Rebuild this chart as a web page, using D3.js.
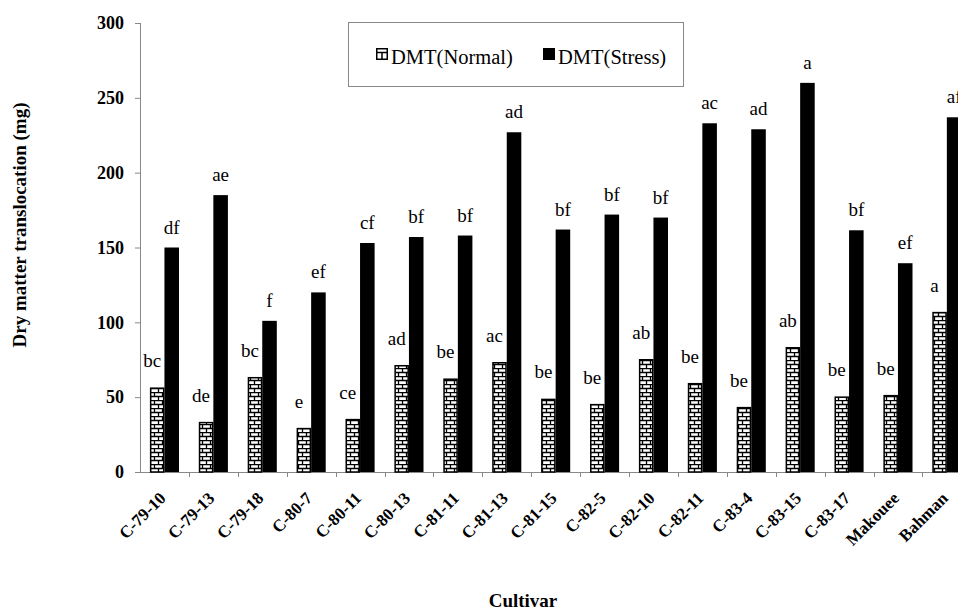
<!DOCTYPE html>
<html>
<head>
<meta charset="utf-8">
<script src="https://cdn.jsdelivr.net/npm/d3@7"></script>
<style>
    body { margin: 0; background: #fff; }
    svg { display: block; }
</style>
</head>
<body>
<svg id="chart"></svg>
<script>
const cultivars = ["C-79-10", "C-79-13", "C-79-18", "C-80-7", "C-80-11", "C-80-13", "C-81-11", "C-81-13", "C-81-15",
    "C-82-5", "C-82-10", "C-82-11", "C-83-4", "C-83-15", "C-83-17", "Makouee", "Bahman"];
const normal = [56, 33, 63, 29, 35, 71, 62, 73, 48.5, 45, 75, 59, 43, 83, 50, 51, 106.5];
const stress = [150, 185, 101, 120, 153, 157, 158, 227, 162, 172, 170, 233, 229, 260, 161.5, 139.5, 237];
const normalLetters = ["bc", "de", "bc", "e", "ce", "ad", "be", "ac", "be", "be", "ab", "be", "be", "ab", "be", "be", "a"];
const stressLetters = ["df", "ae", "f", "ef", "cf", "bf", "bf", "ad", "bf", "bf", "bf", "ac", "ad", "a", "bf", "ef", "af"];
const seriesNames = ["DMT(Normal)", "DMT(Stress)"];
const yTicks = [0, 50, 100, 150, 200, 250, 300];

const width = 958, height = 610;
const plotLeft = 140, plotTop = 23, plotBottom = 472;
const step = 48.9;
const serif = "Times New Roman, Liberation Serif, serif";

const svg = d3.select("#chart")
    .attr("width", width)
    .attr("height", height)
    .attr("font-family", serif);

// brick fill for the normal series
const defs = svg.append("defs");
const brick = defs.append("pattern")
    .attr("id", "brick")
    .attr("patternUnits", "userSpaceOnUse")
    .attr("width", 8)
    .attr("height", 8)
    .attr("y", plotBottom);
brick.append("rect").attr("width", 8).attr("height", 8).attr("fill", "#fff");
brick.append("path")
    .attr("d", "M0,0.5H8M0,4.5H8M2.5,0.5V4.5M6.5,4.5V8.5")
    .attr("stroke", "#000")
    .attr("stroke-width", 1.3)
    .attr("fill", "none");

const x = d3.scaleBand()
    .domain(cultivars)
    .range([plotLeft, plotLeft + step * cultivars.length]);

const xSub = d3.scaleBand()
    .domain(seriesNames)
    .range([0, x.bandwidth()])
    .paddingOuter(0.68);

const y = d3.scaleLinear()
    .domain([0, 300])
    .range([plotBottom, plotTop]);

const data = cultivars.map((c, i) => ({
    name: c, normal: normal[i], stress: stress[i],
    nl: normalLetters[i], sl: stressLetters[i]
}));

// axes
const yAxis = svg.append("g")
    .attr("transform", `translate(${plotLeft},0)`)
    .call(d3.axisLeft(y).tickValues(yTicks).tickSize(5).tickPadding(11).tickFormat(d3.format("d")));
yAxis.attr("font-family", serif).attr("font-size", 18).attr("font-weight", "bold");
yAxis.select(".domain").attr("stroke", "#888").attr("d", `M0.5,${y(300)}V${plotBottom + 0.5}`);
yAxis.selectAll(".tick line").attr("stroke", "#888");
yAxis.selectAll(".tick text").attr("fill", "#000");

const xAxis = svg.append("g");
xAxis.append("line")
    .attr("x1", plotLeft).attr("x2", width)
    .attr("y1", plotBottom + 0.5).attr("y2", plotBottom + 0.5)
    .attr("stroke", "#888");
xAxis.selectAll(".xt")
    .data(cultivars)
    .join("line")
    .attr("class", "xt")
    .attr("x1", d => Math.round(x(d) + x.bandwidth()) + 0.5)
    .attr("x2", d => Math.round(x(d) + x.bandwidth()) + 0.5)
    .attr("y1", plotBottom).attr("y2", plotBottom + 5)
    .attr("stroke", "#888");
xAxis.selectAll(".xl")
    .data(cultivars)
    .join("g")
    .attr("class", "xl")
    .attr("transform", d => `translate(${x(d) + x.bandwidth() / 2 - 2},${plotBottom + 23})`)
    .append("text")
    .attr("transform", "rotate(-45)")
    .attr("text-anchor", "end")
    .attr("dy", "0.35em")
    .attr("font-size", 17)
    .attr("font-weight", "bold")
    .text(d => d);

// normal bars + letters (stress bars drawn on top)
svg.append("g")
    .selectAll("rect")
    .data(data)
    .join("rect")
    .attr("x", d => x(d.name) + xSub("DMT(Normal)") + 0.75)
    .attr("y", d => y(d.normal))
    .attr("width", xSub.bandwidth() - 1.5)
    .attr("height", d => plotBottom - y(d.normal))
    .attr("fill", "url(#brick)")
    .attr("stroke", "#000")
    .attr("stroke-width", 1.5);

svg.append("g")
    .selectAll("text")
    .data(data)
    .join("text")
    .attr("x", d => x(d.name) + xSub("DMT(Normal)") + xSub.bandwidth() / 2 - 5)
    .attr("y", d => y(d.normal) - 21)
    .attr("text-anchor", "middle")
    .attr("font-size", 19)
    .text(d => d.nl);

svg.append("g")
    .selectAll("rect")
    .data(data)
    .join("rect")
    .attr("x", d => x(d.name) + xSub("DMT(Stress)"))
    .attr("y", d => y(d.stress))
    .attr("width", xSub.bandwidth())
    .attr("height", d => plotBottom - y(d.stress))
    .attr("fill", "#000");

svg.append("g")
    .selectAll("text")
    .data(data)
    .join("text")
    .attr("x", d => x(d.name) + xSub("DMT(Stress)") + xSub.bandwidth() / 2)
    .attr("y", d => y(d.stress) - 14)
    .attr("text-anchor", "middle")
    .attr("font-size", 19)
    .text(d => d.sl);

// legend
const legend = svg.append("g").attr("transform", "translate(348,22)");
legend.append("rect")
    .attr("x", 0.5).attr("y", 0.5)
    .attr("width", 335).attr("height", 64)
    .attr("fill", "#fff")
    .attr("stroke", "#888");
const items = legend.selectAll("g")
    .data(seriesNames)
    .join("g")
    .attr("transform", (d, i) => `translate(${i ? 195 : 28},26)`);
items.append("rect")
    .attr("x", 0.75).attr("y", 0.75)
    .attr("width", 10.5).attr("height", 10.5)
    .attr("fill", (d, i) => i ? "#000" : "#fff")
    .attr("stroke", "#000")
    .attr("stroke-width", 1.5);
items.filter((d, i) => i === 0).append("path")
    .attr("d", "M1,4.5H11M6,4.5V11")
    .attr("stroke", "#000")
    .attr("stroke-width", 1.5);
items.append("text")
    .attr("x", 15)
    .attr("y", 15.5)
    .attr("font-size", 20.5)
    .text(d => d);

// titles
svg.append("text")
    .attr("transform", "translate(26,225) rotate(-90)")
    .attr("text-anchor", "middle")
    .attr("font-size", 19)
    .attr("font-weight", "bold")
    .text("Dry matter translocation (mg)");

svg.append("text")
    .attr("x", 523)
    .attr("y", 607)
    .attr("text-anchor", "middle")
    .attr("font-size", 19)
    .attr("font-weight", "bold")
    .text("Cultivar");
</script>
</body>
</html>
